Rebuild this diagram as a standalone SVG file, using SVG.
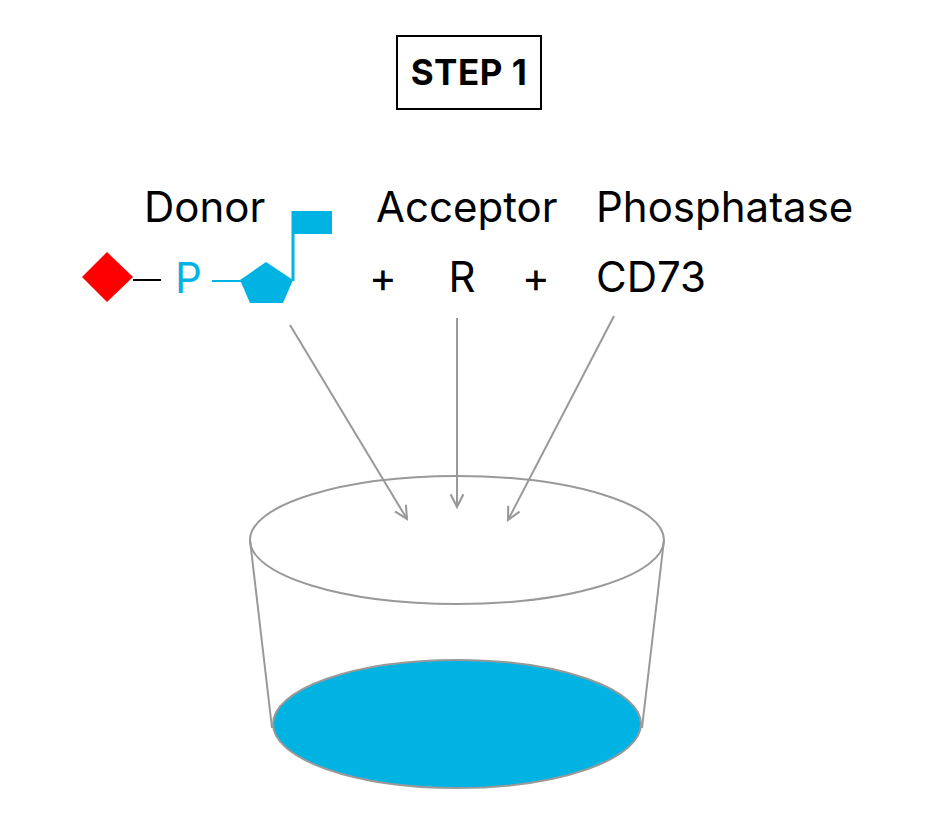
<svg xmlns="http://www.w3.org/2000/svg" width="938" height="834" viewBox="0 0 938 834">
<defs>
<style>
.t{font-family:"Inter","Liberation Sans",sans-serif;font-size:42px;fill:#000}
.c{stroke:#999;stroke-width:2;fill:none}
</style>
<marker id="a" viewBox="0 0 10 10" refX="9" refY="5" markerWidth="16" markerHeight="16" markerUnits="userSpaceOnUse" orient="auto"><path d="M1,1 L9,5 L1,9" fill="none" stroke="#999" stroke-width="1.3"/></marker>
</defs>
<rect width="938" height="834" fill="#fff"/>
<g id="title"><rect x="397" y="36" width="144" height="73" fill="#fff" stroke="#000" stroke-width="2"/><text x="469" y="85" text-anchor="middle" font-family="Inter,'Liberation Sans',sans-serif" font-weight="bold" font-size="35" letter-spacing="0.5">STEP 1</text></g>
<g id="donor">
<text class="t" x="144" y="222">Donor</text>
<polygon points="107,252 133,277 107,302 82,277" fill="#f00"/>
<line x1="133" y1="280" x2="161" y2="280" stroke="#000" stroke-width="2"/>
<text class="t" x="175" y="293" style="fill:#00b3e3">P</text>
<line x1="212" y1="281" x2="241" y2="281" stroke="#00b3e3" stroke-width="2"/>
<polygon points="240,280 266,262 293,280 283,303 250,303" fill="#00b3e3"/>
<line x1="293" y1="281" x2="293" y2="211" stroke="#00b3e3" stroke-width="3"/>
<rect x="293" y="211" width="39" height="23" fill="#00b3e3"/>
</g>
<g id="plus"><text class="t" x="383" y="292" text-anchor="middle">+</text><text class="t" x="536" y="292" text-anchor="middle">+</text></g>
<g id="acceptor"><text class="t" x="376" y="222">Acceptor</text><text class="t" x="462" y="292" text-anchor="middle">R</text></g>
<g id="phosphatase"><text class="t" x="596" y="222">Phosphatase</text><text class="t" x="596" y="292">CD73</text></g>
<g id="vessel">
<ellipse cx="457" cy="724" rx="184" ry="64" fill="#00b3e3" stroke="#999" stroke-width="2"/>
<line class="c" x1="250" y1="540" x2="272" y2="728"/>
<line class="c" x1="664" y1="540" x2="642" y2="728"/>
<ellipse class="c" cx="457" cy="540" rx="207" ry="64" fill="#fff"/>
</g>
<g id="connectors">
<line class="c" x1="290" y1="325" x2="407" y2="519" marker-end="url(#a)"/>
<line class="c" x1="457" y1="318" x2="457" y2="507" marker-end="url(#a)"/>
<line class="c" x1="614" y1="316" x2="508" y2="520" marker-end="url(#a)"/>
</g>
</svg>
